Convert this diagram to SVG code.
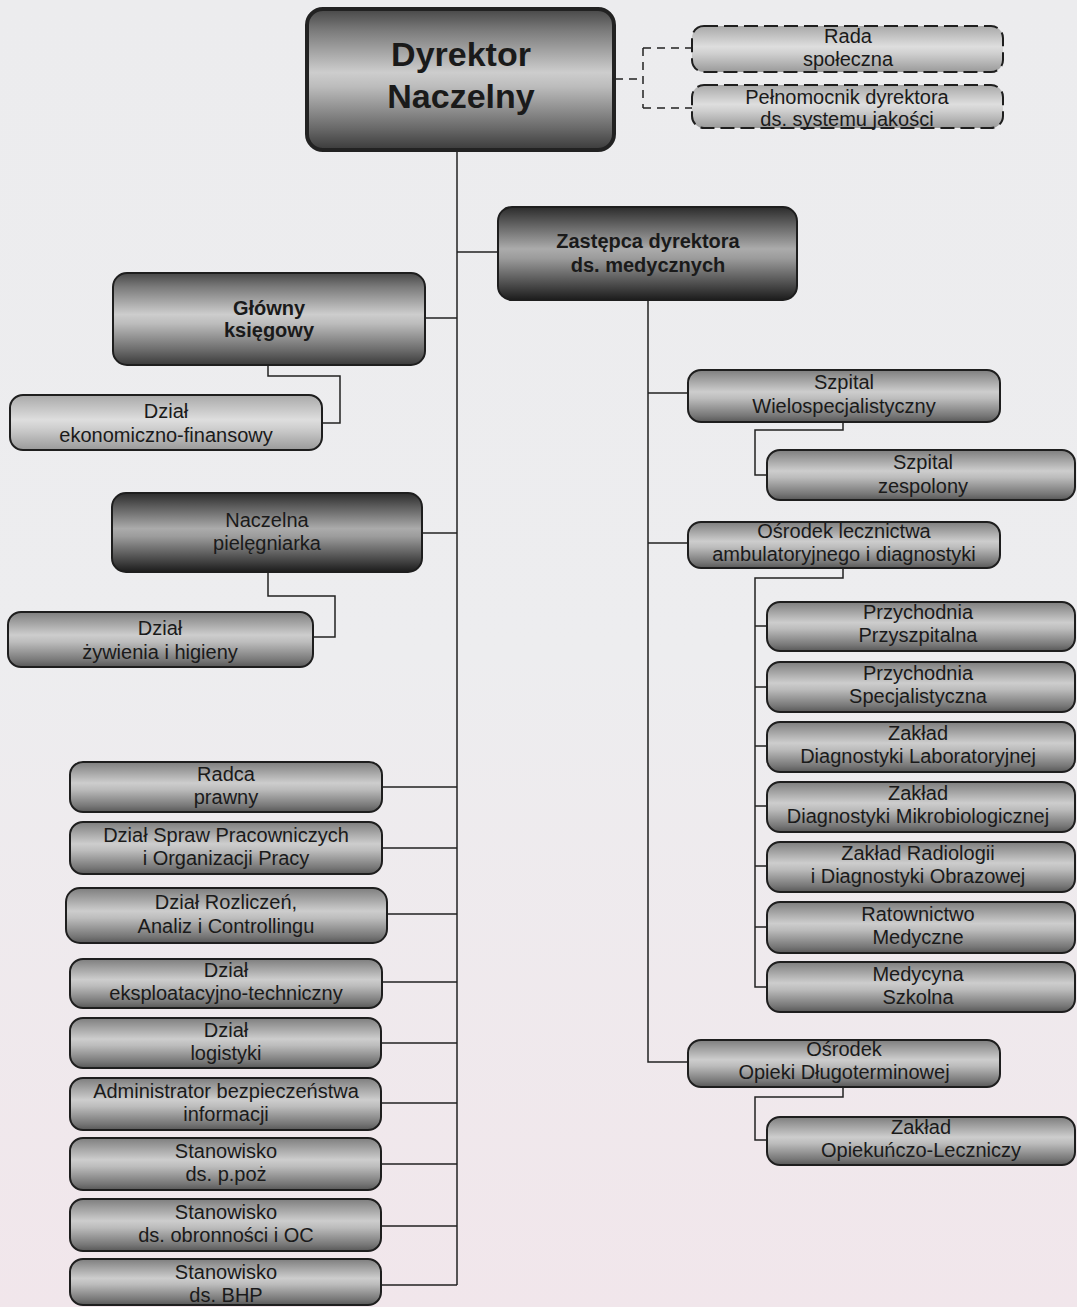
<svg xmlns="http://www.w3.org/2000/svg" width="1077" height="1307" viewBox="0 0 1077 1307">
<defs>
<linearGradient id="bg" x1="0" y1="0" x2="0" y2="1">
<stop offset="0" stop-color="#ececee"/><stop offset="0.5" stop-color="#ededef"/><stop offset="1" stop-color="#f1e6eb"/>
</linearGradient>
<linearGradient id="gDir" x1="0" y1="0" x2="0" y2="1">
<stop offset="0" stop-color="#474747"/><stop offset="0.15" stop-color="#7a7a7a"/><stop offset="0.45" stop-color="#cdcdcd"/><stop offset="0.55" stop-color="#bcbcbc"/><stop offset="0.85" stop-color="#686868"/><stop offset="1" stop-color="#3a3a3a"/>
</linearGradient>
<linearGradient id="gMid" x1="0" y1="0" x2="0" y2="1">
<stop offset="0" stop-color="#7e7e7e"/><stop offset="0.42" stop-color="#cdcdcd"/><stop offset="0.55" stop-color="#bcbcbc"/><stop offset="0.88" stop-color="#777"/><stop offset="1" stop-color="#585858"/>
</linearGradient>
<linearGradient id="gDark" x1="0" y1="0" x2="0" y2="1">
<stop offset="0" stop-color="#2c2c2c"/><stop offset="0.45" stop-color="#ababab"/><stop offset="0.55" stop-color="#9c9c9c"/><stop offset="1" stop-color="#1c1c1c"/>
</linearGradient>
<linearGradient id="gLight" x1="0" y1="0" x2="0" y2="1">
<stop offset="0" stop-color="#a9a9a9"/><stop offset="0.45" stop-color="#dedede"/><stop offset="0.6" stop-color="#cfcfcf"/><stop offset="1" stop-color="#9a9a9a"/>
</linearGradient>
<style>
.n{stroke:#1e1e1e;stroke-width:2}
.d{stroke:#1e1e1e;stroke-width:2;stroke-dasharray:14 6}
.t{font-family:"Liberation Sans",Arial,sans-serif;font-size:20px;text-anchor:middle;fill:#1a1a1a}
.b{font-weight:bold}
.c{fill:none;stroke:#222;stroke-width:1.5}
.cd{fill:none;stroke:#222;stroke-width:1.5;stroke-dasharray:8 6}
</style>
</defs>
<rect x="0" y="0" width="1077" height="1307" fill="url(#bg)"/>

<g id="connectors">
<path class="cd" d="M615 79 H643 M643 48 V108 M643 48 H692 M643 108 H692"/>
<path class="c" d="M457 150 V1285"/>
<path class="c" d="M457 252 H498"/>
<path class="c" d="M425 318 H457"/>
<path class="c" d="M268 365 V376 H340 V423 H322"/>
<path class="c" d="M422 533 H457"/>
<path class="c" d="M268 572 V596 H335 V637 H313"/>
<path class="c" d="M382 787 H457 M382 848 H457 M387 914 H457 M382 982 H457 M381 1043 H457 M381 1103 H457 M381 1164 H457 M381 1226 H457 M381 1285 H457"/>
<path class="c" d="M648 300 V1062 H688"/>
<path class="c" d="M648 393 H688 M648 543 H688"/>
<path class="c" d="M843 422 V430 H755 V475 H767"/>
<path class="c" d="M843 568 V578 H755 V987 H767"/>
<path class="c" d="M755 626 H767 M755 687 H767 M755 746 H767 M755 806 H767 M755 866 H767 M755 927 H767"/>
<path class="c" d="M843 1087 V1097 H755 V1140 H767"/>
</g>

<g id="dyrektor">
<rect x="307" y="9" width="307" height="141" rx="16" fill="url(#gDir)" stroke="#222" stroke-width="4"/>
<text class="t b" x="461" y="66" style="font-size:34px">Dyrektor</text>
<text class="t b" x="461" y="108" style="font-size:34px">Naczelny</text>
</g>
<g id="rada">
<rect class="d" x="692" y="26" width="311" height="46" rx="12" fill="url(#gLight)"/>
<text class="t" x="848" y="43">Rada</text><text class="t" x="848" y="66">społeczna</text>
</g>
<g id="pelnomocnik">
<rect class="d" x="692" y="85" width="311" height="43" rx="12" fill="url(#gLight)"/>
<text class="t" x="847" y="104">Pełnomocnik dyrektora</text><text class="t" x="847" y="126">ds. systemu jakości</text>
</g>
<g id="zastepca">
<rect class="n" x="498" y="207" width="299" height="93" rx="14" fill="url(#gDark)"/>
<text class="t b" x="648" y="248">Zastępca dyrektora</text><text class="t b" x="648" y="272">ds. medycznych</text>
</g>
<g id="glowny">
<rect class="n" x="113" y="273" width="312" height="92" rx="14" fill="url(#gDir)"/>
<text class="t b" x="269" y="315">Główny</text><text class="t b" x="269" y="337">księgowy</text>
</g>
<g id="dzial-ekon">
<rect class="n" x="10" y="395" width="312" height="55" rx="13" fill="url(#gLight)"/>
<text class="t" x="166" y="418">Dział</text><text class="t" x="166" y="442">ekonomiczno-finansowy</text>
</g>
<g id="naczelna">
<rect class="n" x="112" y="493" width="310" height="79" rx="14" fill="url(#gDark)"/>
<text class="t" x="267" y="527">Naczelna</text><text class="t" x="267" y="550">pielęgniarka</text>
</g>
<g id="dzial-zyw">
<rect class="n" x="8" y="612" width="305" height="55" rx="13" fill="url(#gMid)"/>
<text class="t" x="160" y="635">Dział</text><text class="t" x="160" y="659">żywienia i higieny</text>
</g>

<g id="radca"><rect class="n" x="70" y="762" width="312" height="50" rx="13" fill="url(#gMid)"/>
<text class="t" x="226" y="781">Radca</text><text class="t" x="226" y="804">prawny</text></g>
<g id="spraw"><rect class="n" x="70" y="822" width="312" height="52" rx="13" fill="url(#gMid)"/>
<text class="t" x="226" y="842">Dział Spraw Pracowniczych</text><text class="t" x="226" y="865">i Organizacji Pracy</text></g>
<g id="rozliczen"><rect class="n" x="66" y="888" width="321" height="55" rx="14" fill="url(#gMid)"/>
<text class="t" x="226" y="909">Dział Rozliczeń,</text><text class="t" x="226" y="933">Analiz i Controllingu</text></g>
<g id="eksploatacyjny"><rect class="n" x="70" y="959" width="312" height="49" rx="13" fill="url(#gMid)"/>
<text class="t" x="226" y="977">Dział</text><text class="t" x="226" y="1000">eksploatacyjno-techniczny</text></g>
<g id="logistyki"><rect class="n" x="70" y="1018" width="311" height="50" rx="13" fill="url(#gMid)"/>
<text class="t" x="226" y="1037">Dział</text><text class="t" x="226" y="1060">logistyki</text></g>
<g id="administrator"><rect class="n" x="70" y="1078" width="311" height="52" rx="13" fill="url(#gMid)"/>
<text class="t" x="226" y="1098">Administrator bezpieczeństwa</text><text class="t" x="226" y="1121">informacji</text></g>
<g id="ppoz"><rect class="n" x="70" y="1138" width="311" height="52" rx="13" fill="url(#gMid)"/>
<text class="t" x="226" y="1158">Stanowisko</text><text class="t" x="226" y="1181">ds. p.poż</text></g>
<g id="obronnosci"><rect class="n" x="70" y="1199" width="311" height="52" rx="13" fill="url(#gMid)"/>
<text class="t" x="226" y="1219">Stanowisko</text><text class="t" x="226" y="1242">ds. obronności i OC</text></g>
<g id="bhp"><rect class="n" x="70" y="1259" width="311" height="46" rx="13" fill="url(#gMid)"/>
<text class="t" x="226" y="1279">Stanowisko</text><text class="t" x="226" y="1302">ds. BHP</text></g>

<g id="szpital-wielo"><rect class="n" x="688" y="370" width="312" height="52" rx="13" fill="url(#gMid)"/>
<text class="t" x="844" y="389">Szpital</text><text class="t" x="844" y="413">Wielospecjalistyczny</text></g>
<g id="szpital-zesp"><rect class="n" x="767" y="450" width="308" height="50" rx="13" fill="url(#gMid)"/>
<text class="t" x="923" y="469">Szpital</text><text class="t" x="923" y="493">zespolony</text></g>
<g id="osrodek-amb"><rect class="n" x="688" y="522" width="312" height="46" rx="13" fill="url(#gMid)"/>
<text class="t" x="844" y="538">Ośrodek lecznictwa</text><text class="t" x="844" y="561">ambulatoryjnego i diagnostyki</text></g>
<g id="przych-przysz"><rect class="n" x="767" y="602" width="308" height="49" rx="13" fill="url(#gMid)"/>
<text class="t" x="918" y="619">Przychodnia</text><text class="t" x="918" y="642">Przyszpitalna</text></g>
<g id="przych-spec"><rect class="n" x="767" y="662" width="308" height="50" rx="13" fill="url(#gMid)"/>
<text class="t" x="918" y="680">Przychodnia</text><text class="t" x="918" y="703">Specjalistyczna</text></g>
<g id="zaklad-lab"><rect class="n" x="767" y="722" width="308" height="50" rx="13" fill="url(#gMid)"/>
<text class="t" x="918" y="740">Zakład</text><text class="t" x="918" y="763">Diagnostyki Laboratoryjnej</text></g>
<g id="zaklad-mikro"><rect class="n" x="767" y="782" width="308" height="50" rx="13" fill="url(#gMid)"/>
<text class="t" x="918" y="800">Zakład</text><text class="t" x="918" y="823">Diagnostyki Mikrobiologicznej</text></g>
<g id="zaklad-radio"><rect class="n" x="767" y="842" width="308" height="50" rx="13" fill="url(#gMid)"/>
<text class="t" x="918" y="860">Zakład Radiologii</text><text class="t" x="918" y="883">i Diagnostyki Obrazowej</text></g>
<g id="ratownictwo"><rect class="n" x="767" y="902" width="308" height="51" rx="13" fill="url(#gMid)"/>
<text class="t" x="918" y="921">Ratownictwo</text><text class="t" x="918" y="944">Medyczne</text></g>
<g id="medycyna"><rect class="n" x="767" y="962" width="308" height="50" rx="13" fill="url(#gMid)"/>
<text class="t" x="918" y="981">Medycyna</text><text class="t" x="918" y="1004">Szkolna</text></g>
<g id="osrodek-opieki"><rect class="n" x="688" y="1040" width="312" height="47" rx="13" fill="url(#gMid)"/>
<text class="t" x="844" y="1056">Ośrodek</text><text class="t" x="844" y="1079">Opieki Długoterminowej</text></g>
<g id="zaklad-opiek"><rect class="n" x="767" y="1117" width="308" height="48" rx="13" fill="url(#gMid)"/>
<text class="t" x="921" y="1134">Zakład</text><text class="t" x="921" y="1157">Opiekuńczo-Leczniczy</text></g>
</svg>
